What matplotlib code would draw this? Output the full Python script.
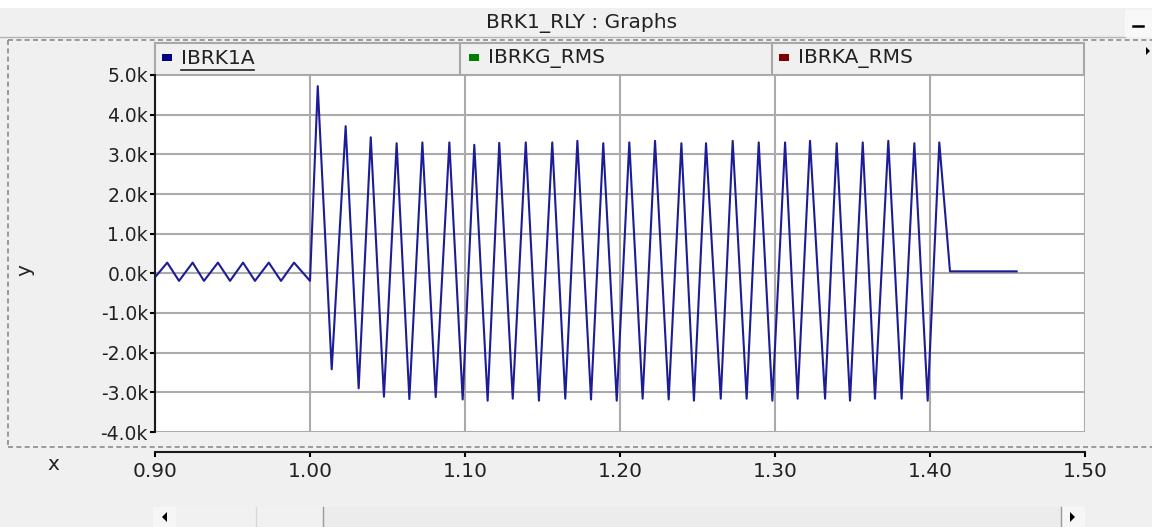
import matplotlib
matplotlib.use("Agg")
import matplotlib.pyplot as plt
from matplotlib.patches import Rectangle, Polygon
import numpy as np

W, H = 1152, 527
FS = 14.5
FS_Y = 13.5
TXT = '#222222'

# IBRK1A trace (kA) - steady state before the fault
pre_t = [0.9000, 0.9079, 0.9155, 0.9243, 0.9316, 0.9406, 0.9484,
         0.9568, 0.9645, 0.9734, 0.9813, 0.9897, 1.0000]
pre_v = [-0.10, 0.27, -0.19, 0.27, -0.19, 0.27, -0.19,
         0.27, -0.19, 0.27, -0.19, 0.27, -0.19]

# fault current: positive peaks and negative troughs
peak_t = [1.0050, 1.0230, 1.0392, 1.0559, 1.0725, 1.0899, 1.1060, 1.1221,
          1.1392, 1.1563, 1.1725, 1.1892, 1.2060, 1.2226, 1.2396, 1.2555,
          1.2727, 1.2895, 1.3065, 1.3226, 1.3398, 1.3566, 1.3731, 1.3899,
          1.4060]
peak_v = [4.72, 3.71, 3.43, 3.28, 3.30, 3.30, 3.24, 3.29, 3.30, 3.30,
          3.34, 3.28, 3.30, 3.34, 3.28, 3.28, 3.34, 3.30, 3.30, 3.34,
          3.28, 3.30, 3.34, 3.28, 3.30]
trough_t = [1.0140, 1.0314, 1.0477, 1.0641, 1.0811, 1.0985, 1.1146, 1.1308,
            1.1477, 1.1647, 1.1813, 1.1979, 1.2146, 1.2314, 1.2477, 1.2650,
            1.2817, 1.2983, 1.3146, 1.3323, 1.3484, 1.3645, 1.3817, 1.3985]
trough_v = [-2.42, -2.90, -3.11, -3.17, -3.12, -3.18, -3.21, -3.16,
            -3.21, -3.16, -3.18, -3.21, -3.16, -3.18, -3.21, -3.16,
            -3.16, -3.21, -3.16, -3.16, -3.21, -3.16, -3.16, -3.21]

# after the breaker opens
post_t = [1.4129, 1.4559]
post_v = [0.05, 0.05]

legend_names = ['IBRK1A', 'IBRKG_RMS', 'IBRKA_RMS']
legend_colors = ['#000080', '#008000', '#800000']

x_ticks = [0.90, 1.00, 1.10, 1.20, 1.30, 1.40, 1.50]
y_ticks = [-4, -3, -2, -1, 0, 1, 2, 3, 4, 5]

# stitch the trace together
t = list(pre_t)
v = list(pre_v)
for i in range(len(peak_t)):
    t.append(peak_t[i]); v.append(peak_v[i])
    if i < len(trough_t):
        t.append(trough_t[i]); v.append(trough_v[i])
t += post_t
v += post_v

fig = plt.figure(figsize=(W / 100, H / 100), dpi=100, facecolor='#f0f0f0')

# window furniture in pixel coordinates
bg = fig.add_axes([0, 0, 1, 1], zorder=0)
bg.set_xlim(0, W)
bg.set_ylim(H, 0)
bg.axis('off')

bg.add_patch(Rectangle((0, 0), W, 8, facecolor='white', edgecolor='none'))
bg.plot([0, 1125], [37, 37], color='#b4b4b4', lw=1)
bg.add_patch(Rectangle((1125, 10), 27, 27, facecolor='#f8f8f8', edgecolor='none'))
bg.plot([1133, 1143], [26, 26], color='black', lw=1.8)
bg.text(582, 23, 'BRK1_RLY : Graphs', ha='center', va='center',
        fontsize=FS, color=TXT)
bg.add_patch(Polygon([[1146, 47], [1146, 55], [1150, 51]], closed=True,
                     facecolor='black', edgecolor='none'))

# dashed frame round the graph
dash = dict(color='#8c8c8c', lw=1.2, ls=(0, (3, 2)))
bg.plot([8, W], [40, 40], **dash)
bg.plot([8, 8], [40, 447], **dash)
bg.plot([8, W], [447, 447], **dash)

# legend strip
bg.add_patch(Rectangle((155, 43), 929, 32, facecolor='#f0f0f0',
                       edgecolor='#a8a8a8', lw=1.5))
for xd in [460, 772]:
    bg.plot([xd, xd], [43, 75], color='#a8a8a8', lw=1.5)
for x0, name, col in zip([162, 469, 779], legend_names, legend_colors):
    bg.add_patch(Rectangle((x0, 54), 10, 7, facecolor=col, edgecolor='none'))
    bg.text(x0 + 19, 58, name, ha='left', va='center', fontsize=FS, color=TXT)
bg.plot([181, 254], [70, 70], color=TXT, lw=1.2)

bg.text(53, 465, 'x', ha='center', va='center', fontsize=FS, color=TXT)
bg.text(25, 270, 'y', ha='center', va='center', fontsize=FS, color=TXT,
        rotation=90)

# scrollbar
bg.add_patch(Rectangle((153, 507), 932, 20, facecolor='#ececec', edgecolor='none'))
bg.add_patch(Rectangle((153, 507), 23, 20, facecolor='#f6f6f6', edgecolor='none'))
bg.add_patch(Rectangle((176, 507), 147, 20, facecolor='#f1f1f1', edgecolor='none'))
bg.plot([256, 256], [507, 527], color='#d8d8d8', lw=1)
bg.plot([323, 323], [507, 527], color='#9a9a9a', lw=1)
bg.add_patch(Rectangle((1061, 507), 24, 20, facecolor='#f6f6f6', edgecolor='none'))
bg.plot([1061, 1061], [507, 527], color='#9a9a9a', lw=1)
bg.add_patch(Polygon([[167, 512], [167, 522], [162, 517]], closed=True,
                     facecolor='black', edgecolor='none'))
bg.add_patch(Polygon([[1070, 512], [1070, 522], [1075, 517]], closed=True,
                     facecolor='black', edgecolor='none'))

# plot area
ax = fig.add_axes([155 / W, (H - 432) / H, 930 / W, 357 / H], zorder=1)
ax.set_facecolor('white')
ax.plot(t, v, color='#1c1c96', lw=1.5, zorder=3)
ax.set_xlim(0.90, 1.50)
ax.set_ylim(-4, 5)
ax.set_xticks(x_ticks)
ax.set_xticklabels([f'{x:.2f}' for x in x_ticks])
ax.set_yticks(y_ticks)
ax.set_yticklabels([f'{y:.1f}k' for y in y_ticks])
ax.grid(True, color='#ababab', lw=1.5)
ax.set_axisbelow(True)

for s in ['top', 'right']:
    ax.spines[s].set_visible(False)
ax.spines['left'].set_color('#1a1a1a')
ax.spines['left'].set_linewidth(1.5)
ax.spines['bottom'].set_position(('outward', 14.4))
ax.spines['bottom'].set_color('#1a1a1a')
ax.spines['bottom'].set_linewidth(1.5)
ax.tick_params(axis='x', direction='out', length=3.6, width=1.5,
               labelsize=FS, labelcolor=TXT, pad=3.5)
ax.tick_params(axis='y', direction='out', length=3.6, width=1.5,
               labelsize=FS_Y, labelcolor=TXT, pad=1.5)

fig.savefig('out.png', dpi=100, facecolor=fig.get_facecolor())
